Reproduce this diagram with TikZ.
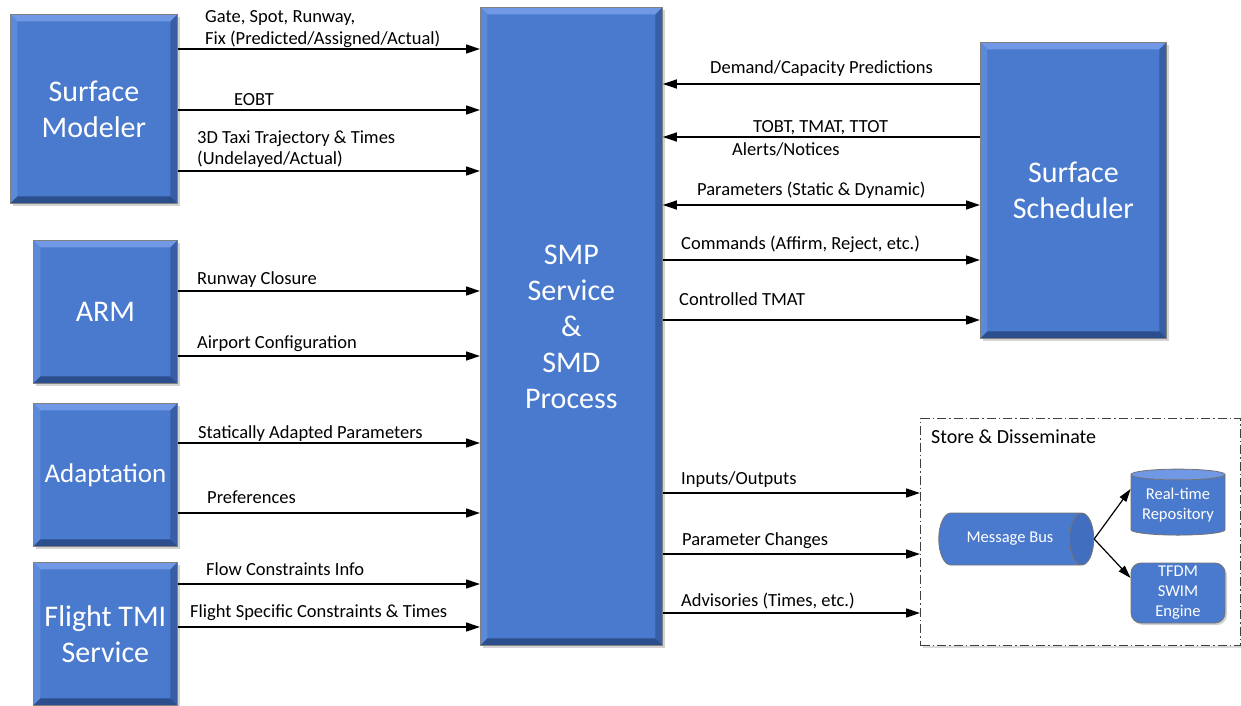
\documentclass[tikz,border=0pt]{standalone}
\usepackage{fontspec}
\setmainfont{Carlito}
\usetikzlibrary{arrows.meta,shapes.geometric,shadows,calc}
\definecolor{boxblue}{RGB}{74,122,206}
\definecolor{bevlight}{RGB}{112,152,228}
\definecolor{bevleft}{RGB}{92,138,218}
\definecolor{bevdark}{RGB}{44,78,140}
\definecolor{bevright}{RGB}{56,94,165}
\definecolor{endblue}{RGB}{66,110,192}
\tikzset{
  blk/.style={draw=black!50, line width=0.8pt, fill=boxblue, text=white,
    font=\fontsize{30}{36}\selectfont, align=center, inner sep=0pt, anchor=north west,
    drop shadow={shadow xshift=3pt, shadow yshift=-3pt, opacity=0.35},
    path picture={
      \fill[bevlight] (path picture bounding box.north west) -- (path picture bounding box.north east)
        -- ([shift={(-7pt,-7pt)}]path picture bounding box.north east) -- ([shift={(7pt,-7pt)}]path picture bounding box.north west) -- cycle;
      \fill[bevleft] (path picture bounding box.north west) -- ([shift={(7pt,-7pt)}]path picture bounding box.north west)
        -- ([shift={(7pt,7pt)}]path picture bounding box.south west) -- (path picture bounding box.south west) -- cycle;
      \fill[bevright] (path picture bounding box.north east) -- ([shift={(-7pt,-7pt)}]path picture bounding box.north east)
        -- ([shift={(-7pt,7pt)}]path picture bounding box.south east) -- (path picture bounding box.south east) -- cycle;
      \fill[bevdark] (path picture bounding box.south west) -- (path picture bounding box.south east)
        -- ([shift={(-7pt,7pt)}]path picture bounding box.south east) -- ([shift={(7pt,7pt)}]path picture bounding box.south west) -- cycle;
    }},
  lab/.style={font=\fontsize{18.5}{22}\selectfont, inner sep=0pt, anchor=base west},
  arr/.style={line width=1.4pt, -{Triangle[length=14pt,width=9pt]}},
  arrb/.style={line width=1.4pt, {Triangle[length=14pt,width=9pt]}-{Triangle[length=14pt,width=9pt]}},
  arrs/.style={line width=1.2pt, -{Triangle[length=13pt,width=8pt]}},
  small/.style={text=white, font=\fontsize{16.5}{20}\selectfont, align=center, inner sep=0pt,
    draw=black!55, line width=0.8pt},
}
\begin{document}
\begin{tikzpicture}[x=1pt,y=-1pt]
\useasboundingbox (0,0) rectangle (1241,706);

% blocks
\node[blk, minimum width=167pt, minimum height=189pt] (sm) at (10,14) {Surface\\Modeler};
\node[blk, minimum width=144pt, minimum height=143pt] (arm) at (33,240) {ARM};
\node[blk, minimum width=144pt, minimum height=143pt, font=\fontsize{27}{36}\selectfont] (adapt) at (33,403) {Adaptation};
\node[blk, minimum width=144pt, minimum height=143pt] (tmi) at (33,562) {Flight TMI\\Service};
\node[blk, minimum width=182pt, minimum height=638pt] (smp) at (480,7) {SMP\\Service\\\&\\SMD\\Process};
\node[blk, minimum width=186pt, minimum height=296pt] (ss) at (980,42) {Surface\\Scheduler};

% store & disseminate
\node[draw=black!75, line width=1pt, dash pattern=on 9pt off 3pt on 1.5pt off 3pt, fill=white, anchor=north west,
  minimum width=320pt, minimum height=227pt, inner sep=0pt,
  drop shadow={shadow xshift=2pt, shadow yshift=-2pt, opacity=0.3}] (sd) at (920,418) {};
\node[font=\fontsize{20}{24}\selectfont, inner sep=0pt, anchor=base west] (sdt) at (931,443) {Store \& Disseminate};

\node[small, cylinder, shape border rotate=0, aspect=1.8, minimum width=52pt, minimum height=155pt,
  cylinder uses custom fill, cylinder body fill=boxblue, cylinder end fill=endblue] (mb) at (1010,539) {Message Bus};
\node[small, cylinder, shape border rotate=90, aspect=0.15, minimum width=94pt, minimum height=66pt,
  cylinder uses custom fill, cylinder body fill=boxblue, cylinder end fill=bevlight, font=\fontsize{16.5}{20}\selectfont] (rep) at (1178,505) {Real-time\\Repository};
\node[small, rounded corners=10pt, fill=boxblue, minimum width=94pt, minimum height=60pt,
  drop shadow={shadow xshift=2pt, shadow yshift=-2pt, opacity=0.35}] (tfdm) at (1178,593) {TFDM\\SWIM\\Engine};

\draw[arrs] (mb.east) -- ($(rep.west)+(0,-16)$);
\draw[arrs] (mb.east) -- ($(tfdm.west)+(0,-15)$);

% left arrows
\draw[arr] (sm.east |- 0,49) -- (smp.west |- 0,49);
\draw[arr] (sm.east |- 0,110) -- (smp.west |- 0,110);
\draw[arr] (sm.east |- 0,171) -- (smp.west |- 0,171);
\draw[arr] (arm.east |- 0,291) -- (smp.west |- 0,291);
\draw[arr] (arm.east |- 0,356) -- (smp.west |- 0,356);
\draw[arr] (adapt.east |- 0,443) -- (smp.west |- 0,443);
\draw[arr] (adapt.east |- 0,513) -- (smp.west |- 0,513);
\draw[arr] (tmi.east |- 0,584) -- (smp.west |- 0,584);
\draw[arr] (tmi.east |- 0,627) -- (smp.west |- 0,627);

% right arrows
\draw[arr] (ss.west |- 0,84) -- (smp.east |- 0,84);
\draw[arr] (ss.west |- 0,137) -- (smp.east |- 0,137);
\draw[arrb] (smp.east |- 0,205) -- (ss.west |- 0,205);
\draw[arr] (smp.east |- 0,260) -- (ss.west |- 0,260);
\draw[arr] (smp.east |- 0,320) -- (ss.west |- 0,320);
\draw[arr] (smp.east |- 0,493) -- (sd.west |- 0,493);
\draw[arr] (smp.east |- 0,554) -- (sd.west |- 0,554);
\draw[arr] (smp.east |- 0,613) -- (sd.west |- 0,613);

% labels
\node[lab] (l1a) at (205,23) {Gate, Spot, Runway,};
\node[lab] (l1b) at (205,45) {Fix (Predicted/Assigned/Actual)};
\node[lab] (l2) at (234,106) {EOBT};
\node[lab] (l3a) at (197,143) {3D Taxi Trajectory \& Times};
\node[lab] (l3b) at (197,164) {(Undelayed/Actual)};
\node[lab] (l4) at (197,284) {Runway Closure};
\node[lab] (l5) at (197,348) {Airport Configuration};
\node[lab] (l6) at (198,438) {Statically Adapted Parameters};
\node[lab] (l7) at (207,503) {Preferences};
\node[lab] (l8) at (206,575) {Flow Constraints Info};
\node[lab] (l9) at (190,617) {Flight Specific Constraints \& Times};

\node[lab] (r1) at (710,74) {Demand/Capacity Predictions};
\node[lab] (r2) at (753,132) {TOBT, TMAT, TTOT};
\node[lab] (r2b) at (732,155) {Alerts/Notices};
\node[lab] (r3) at (697,195) {Parameters (Static \& Dynamic)};
\node[lab] (r4) at (681,249) {Commands (Affirm, Reject, etc.)};
\node[lab] (r5) at (679,305) {Controlled TMAT};
\node[lab] (r6) at (681,484) {Inputs/Outputs};
\node[lab] (r7) at (682,545) {Parameter Changes};
\node[lab] (r8) at (681,606) {Advisories (Times, etc.)};
\end{tikzpicture}
\end{document}
